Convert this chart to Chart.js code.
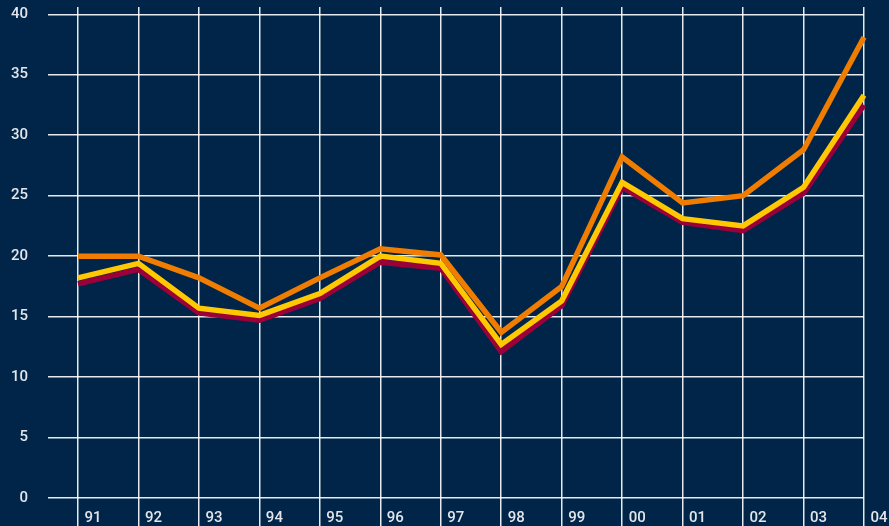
<!DOCTYPE html>
<html>
<head>
<meta charset="utf-8">
<script src="https://cdn.jsdelivr.net/npm/chart.js@4/dist/chart.umd.min.js"></script>
<style>
  html, body { margin: 0; padding: 0; background: #012548; }
  #wrap { width: 889px; height: 526px; }
</style>
</head>
<body>
<div id="wrap"><canvas id="chart"></canvas></div>
<script>
const years = ['91', '92', '93', '94', '95', '96', '97', '98', '99', '00', '01', '02', '03', '04'];
const orangeSeries = [20.0, 20.0, 18.2, 15.7, 18.2, 20.6, 20.1, 13.7, 17.5, 28.2, 24.4, 25.0, 28.8, 38.1];
const yellowSeries = [18.2, 19.4, 15.7, 15.1, 16.9, 20.0, 19.4, 12.7, 16.3, 26.1, 23.1, 22.5, 25.7, 33.3];
const maroonSeries = [17.7, 18.9, 15.3, 14.7, 16.5, 19.5, 19.0, 12.1, 15.9, 25.7, 22.8, 22.1, 25.2, 32.5];
const yTicks = [0, 5, 10, 15, 20, 25, 30, 35, 40];

const gridColor = 'rgba(255,255,255,0.9)';
const textColor = '#e2e6ec';

function line(data, color) {
  return {
    data,
    borderColor: color,
    borderWidth: 5.5,
    borderJoinStyle: 'miter',
    pointRadius: 0,
    tension: 0,
    fill: false
  };
}

const ctx = document.getElementById('chart').getContext('2d');

new Chart(ctx, {
  type: 'line',
  data: {
    labels: years,
    datasets: [
      line(orangeSeries, '#f07d00'),
      line(yellowSeries, '#ffc800'),
      line(maroonSeries, '#9b0039')
    ]
  },
  options: {
    responsive: true,
    maintainAspectRatio: false,
    animation: false,
    layout: { padding: { top: 7, right: 25, left: 0, bottom: 0 } },
    plugins: {
      legend: { display: false },
      tooltip: { enabled: false }
    },
    scales: {
      x: {
        offset: false,
        border: { display: false },
        grid: { color: gridColor, lineWidth: 1.5, tickLength: 28 },
        ticks: {
          color: textColor,
          font: { family: 'Roboto', size: 15, weight: '500' },
          padding: -17,
          labelOffset: 15,
          maxRotation: 0,
          autoSkip: false
        },
        afterFit(scale) {
          scale.height = 28;
          scale.paddingLeft = 0;
          scale.paddingRight = 0;
        }
      },
      y: {
        min: 0,
        max: 40.6,
        border: { display: false },
        grid: { color: gridColor, lineWidth: 1.5, tickLength: 30 },
        ticks: {
          color: textColor,
          font: { family: 'Roboto', size: 15, weight: '500' },
          padding: 20
        },
        afterBuildTicks(scale) {
          scale.ticks = yTicks.map(v => ({ value: v }));
        },
        afterFit(scale) {
          scale.width = 78;
          scale.paddingTop = 0;
          scale.paddingBottom = 0;
        }
      }
    }
  }
});
</script>
</body>
</html>
